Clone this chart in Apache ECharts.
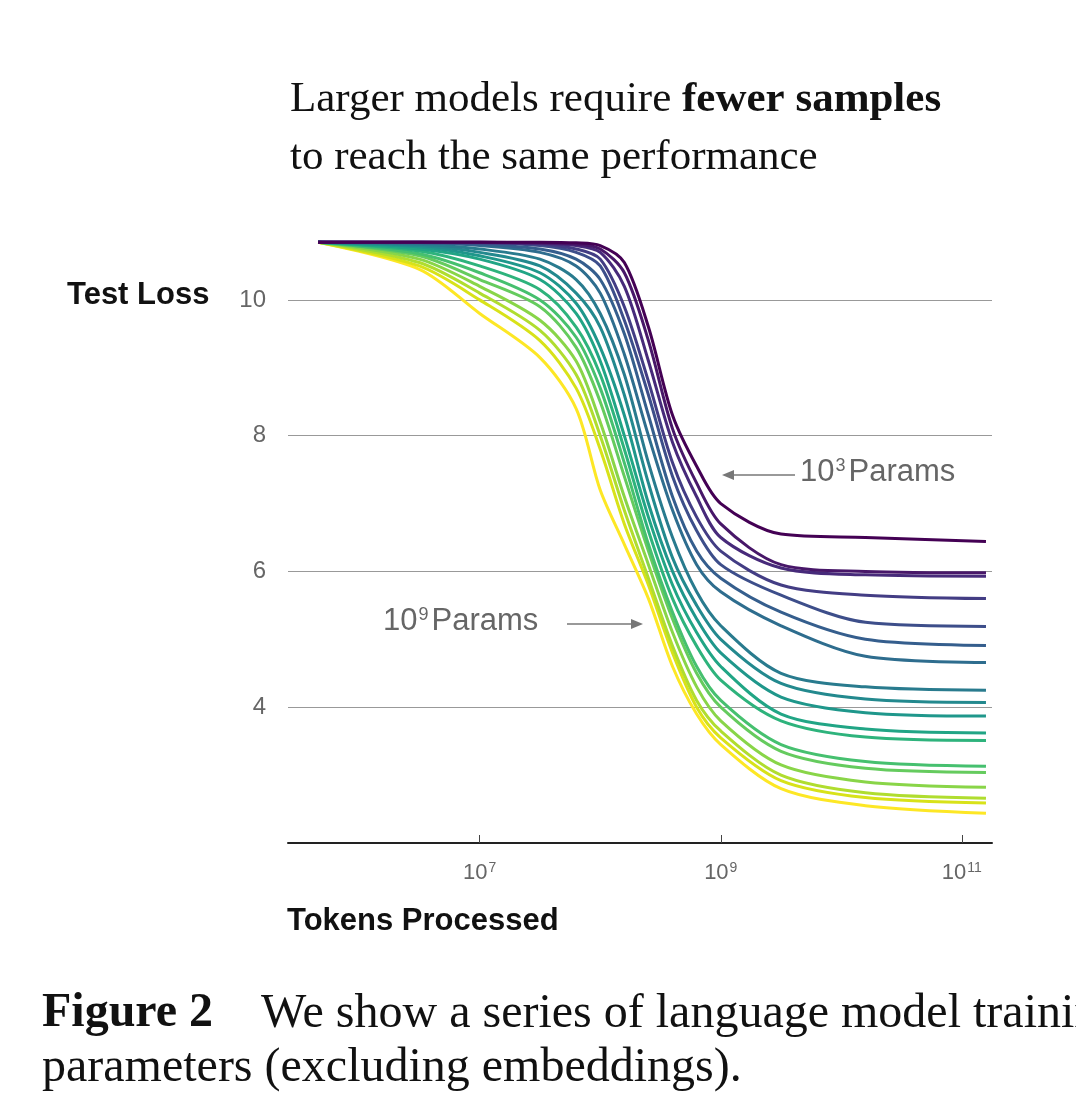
<!DOCTYPE html>
<html>
<head>
<meta charset="utf-8">
<script src="https://cdn.jsdelivr.net/npm/echarts@6/dist/echarts.min.js"></script>
<style>
  html, body { margin: 0; padding: 0; background: #fff; overflow: hidden; }
  #chart { width: 1076px; height: 1112px; }
</style>
</head>
<body>
<div id="chart"></div>
<script>
// x positions as log10(tokens)
var logTokens = [5.66, 6.5, 7, 7.5, 7.8, 8.0, 8.2, 8.4, 8.6, 8.8, 9.0, 9.5, 10.2, 11.2]

// test loss for each model size, smallest (10^3 params) first
var lossCurves = [
    [10.85, 10.85, 10.85, 10.85, 10.84, 10.8, 10.55, 9.6, 8.3, 7.55, 7.0, 6.55, 6.5, 6.44],
    [10.85, 10.85, 10.85, 10.84, 10.82, 10.75, 10.4, 9.4, 8.1, 7.3, 6.7, 6.1, 6.0, 5.98],
    [10.85, 10.85, 10.85, 10.83, 10.8, 10.7, 10.2, 9.1, 7.9, 7.1, 6.5, 6.05, 5.95, 5.93],
    [10.85, 10.85, 10.84, 10.82, 10.75, 10.6, 9.9, 8.8, 7.6, 6.8, 6.3, 5.8, 5.65, 5.6],
    [10.85, 10.85, 10.84, 10.8, 10.7, 10.5, 9.7, 8.6, 7.4, 6.6, 6.1, 5.65, 5.25, 5.19],
    [10.85, 10.84, 10.82, 10.75, 10.6, 10.3, 9.5, 8.3, 7.1, 6.3, 5.9, 5.4, 5.0, 4.91],
    [10.85, 10.84, 10.8, 10.7, 10.5, 10.1, 9.2, 8.0, 6.9, 6.1, 5.7, 5.2, 4.75, 4.66],
    [10.85, 10.82, 10.75, 10.6, 10.3, 9.8, 8.9, 7.6, 6.5, 5.7, 5.2, 4.5, 4.3, 4.25],
    [10.85, 10.8, 10.7, 10.5, 10.1, 9.6, 8.6, 7.3, 6.2, 5.5, 5.0, 4.35, 4.12, 4.07],
    [10.85, 10.78, 10.65, 10.4, 9.95, 9.3, 8.3, 7.0, 6.0, 5.3, 4.8, 4.15, 3.92, 3.87],
    [10.85, 10.75, 10.6, 10.3, 9.8, 9.1, 8.0, 6.8, 5.8, 5.1, 4.6, 3.9, 3.68, 3.62],
    [10.85, 10.72, 10.5, 10.15, 9.6, 8.9, 7.8, 6.6, 5.6, 4.9, 4.4, 3.8, 3.56, 3.51],
    [10.85, 10.68, 10.4, 10.0, 9.45, 8.7, 7.6, 6.4, 5.4, 4.6, 4.1, 3.45, 3.2, 3.13],
    [10.85, 10.65, 10.3, 9.9, 9.3, 8.5, 7.4, 6.3, 5.3, 4.5, 4.0, 3.35, 3.1, 3.04],
    [10.85, 10.6, 10.2, 9.7, 9.1, 8.2, 7.1, 6.1, 5.1, 4.3, 3.8, 3.15, 2.9, 2.82],
    [10.85, 10.55, 10.1, 9.55, 8.9, 8.0, 6.9, 5.9, 4.9, 4.1, 3.65, 3.0, 2.74, 2.66],
    [10.85, 10.5, 10.0, 9.4, 8.7, 7.8, 6.7, 5.8, 4.8, 4.0, 3.55, 2.92, 2.67, 2.59],
    [10.85, 10.45, 9.8, 9.15, 8.4, 7.2, 6.4, 5.6, 4.6, 3.9, 3.45, 2.8, 2.55, 2.44]
]

// viridis, dark to light
var colors = ['#440154', '#481769', '#472a7a', '#433d84', '#3d4e8a', '#355e8d', '#2e6d8e', '#297b8e', '#23898e',
    '#1f978b', '#21a585', '#2eb37c', '#46c06f', '#65cb5e', '#89d548', '#b0dd2f', '#d8e219', '#fde725']

var xTicks = [7, 9, 11]
var yTicks = [4, 6, 8, 10]

var serif = '"Liberation Serif", "DejaVu Serif", serif'
var sans = '"Liberation Sans", Arial, sans-serif'

var series = lossCurves.map(function (curve, i) {
    return {
        type: 'line',
        data: curve.map(function (v, j) { return [logTokens[j], v] }),
        smooth: 0.3,
        showSymbol: false,
        z: 2 + (lossCurves.length - i),
        lineStyle: {color: colors[i], width: 3},
        animation: false
    }
})

function arrow(x1, y1, x2, y2) {
    var dir = x2 > x1 ? 1 : -1
    return [
        {type: 'line', shape: {x1: x1, y1: y1, x2: x2 - dir * 8, y2: y2}, style: {stroke: '#777', lineWidth: 1.5}},
        {type: 'polygon', shape: {points: [[x2, y2], [x2 - dir * 12, y2 - 5], [x2 - dir * 12, y2 + 5]]}, style: {fill: '#777'}}
    ]
}

var supRich = {s: {fontSize: 18, fill: '#666', fontFamily: sans, verticalAlign: 'top', padding: [0, 3, 12, 1]}}

var graphics = [
    {type: 'text', left: 290, top: 78, style: {
        text: 'Larger models require {b|fewer samples}', font: '43px ' + serif, fill: '#111',
        rich: {b: {font: 'bold 43px ' + serif, fill: '#111'}}}},
    {type: 'text', left: 290, top: 136, style: {text: 'to reach the same performance', font: '43px ' + serif, fill: '#111'}},
    {type: 'text', left: 67, top: 280, style: {text: 'Test Loss', font: 'bold 31px ' + sans, fill: '#111'}},
    {type: 'text', left: 287, top: 906, style: {text: 'Tokens Processed', font: 'bold 31px ' + sans, fill: '#111'}},
    {type: 'text', left: 800, top: 457, style: {text: '10{s|3}Params', font: '31px ' + sans, fill: '#666', rich: supRich}},
    {type: 'text', left: 383, top: 606, style: {text: '10{s|9}Params', font: '31px ' + sans, fill: '#666', rich: supRich}},
    {type: 'text', left: 42, top: 990, style: {
        text: '{b|Figure 2}    We show a series of language model training runs', font: '48px ' + serif, fill: '#111',
        rich: {b: {font: 'bold 48px ' + serif, fill: '#111'}}}},
    {type: 'text', left: 42, top: 1044, style: {text: 'parameters (excluding embeddings).', font: '48px ' + serif, fill: '#111'}}
].concat(arrow(795, 475, 722, 475), arrow(567, 624, 643, 624))

echarts.init(document.querySelector('#chart')).setOption({
    backgroundColor: '#fff',
    grid: {left: 288, right: 84, top: 232, bottom: 269},
    xAxis: {
        type: 'value', min: 5.41, max: 11.25,
        axisLine: {lineStyle: {color: '#222', width: 2}},
        axisTick: {show: true, inside: true, length: 8, customValues: xTicks, lineStyle: {color: '#444'}},
        axisLabel: {
            customValues: xTicks, margin: 18, color: '#666',
            formatter: function (v) { return '{b|10}{s|' + v + '}' },
            rich: {b: {fontSize: 22, color: '#666', fontFamily: sans},
                s: {fontSize: 14, color: '#666', fontFamily: sans, verticalAlign: 'top', padding: [0, 0, 9, 1]}}
        },
        splitLine: {show: false}
    },
    yAxis: {
        type: 'value', min: 2, max: 11, interval: 2,
        axisLine: {show: false},
        axisTick: {show: false},
        axisLabel: {
            color: '#666', fontSize: 24, fontFamily: sans, margin: 22,
            formatter: function (v) { return yTicks.indexOf(v) >= 0 ? String(v) : '' }
        },
        splitLine: {showMaxLine: false, showMinLine: false, lineStyle: {color: '#999', width: 1.2}}
    },
    series: series,
    graphic: graphics
})
</script>
</body>
</html>
